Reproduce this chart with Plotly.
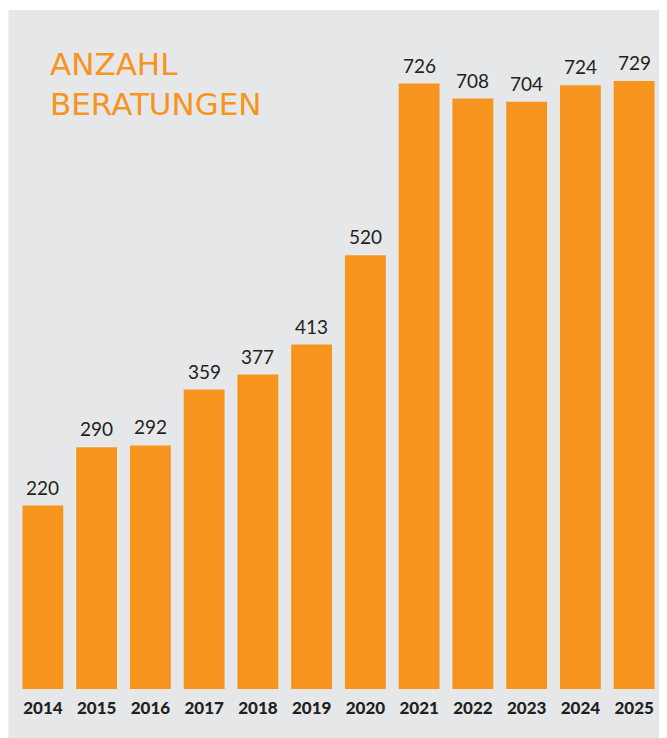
import plotly.graph_objects as go

years = ["2014", "2015", "2016", "2017", "2018", "2019", "2020", "2021", "2022", "2023", "2024", "2025"]
beratungen = [220, 290, 292, 359, 377, 413, 520, 726, 708, 704, 724, 729]
title_text = "ANZAHL<br>BERATUNGEN"

ORANGE = "#f7941d"
GRAY = "#e6e7e8"
DARK = "#231f20"

# page body has an 8px margin; figure coordinates = screen coordinates - 8
OFF = 8
W, H = 667 - OFF, 738 - OFF
ML, MR, MT, MB = 15.6 - OFF, 5.6, 2, 738 - 689
PW = W - ML - MR
PH = H - MT - MB

def px_x(p):  # screen x -> paper
    return (p - OFF - ML) / PW

def px_y(p):  # screen y -> paper
    return (H - MB - (p - OFF)) / PH

fig = go.Figure(go.Bar(
    x=years, y=beratungen,
    marker=dict(color=ORANGE, line=dict(width=0)),
    hoverinfo="skip",
))

# value labels above each bar (category index positions on the x axis)
for i, v in enumerate(beratungen):
    fig.add_annotation(x=i, y=v, xref="x", yref="y", text=str(v),
                       showarrow=False, yanchor="bottom", yshift=5,
                       font=dict(family="Lato", size=19, color=DARK))

fig.add_shape(type="rect", xref="paper", yref="paper",
              x0=px_x(OFF), x1=px_x(667 + 4), y0=px_y(738 + 4), y1=px_y(10),
              fillcolor=GRAY, line=dict(width=0), layer="below")

fig.add_annotation(text=title_text, xref="paper", yref="paper",
                   x=px_x(48), y=px_y(44), xanchor="left", yanchor="top",
                   align="left", showarrow=False,
                   font=dict(family="DejaVu Sans", size=31, color=ORANGE))

fig.update_layout(
    width=W, height=H,
    margin=dict(l=ML, r=MR, t=MT, b=MB, pad=0),
    paper_bgcolor="white", plot_bgcolor="rgba(0,0,0,0)",
    bargap=0.24, showlegend=False,
    xaxis=dict(type="category", range=[-0.5, 11.5], showgrid=False, zeroline=False,
               showline=False, ticks="", ticklabelstandoff=7,
               tickfont=dict(family="Lato", size=17, color=DARK, weight=900)),
    yaxis=dict(range=[0, PH / 0.834], visible=False, fixedrange=True),
)

fig.write_html("out.html")
